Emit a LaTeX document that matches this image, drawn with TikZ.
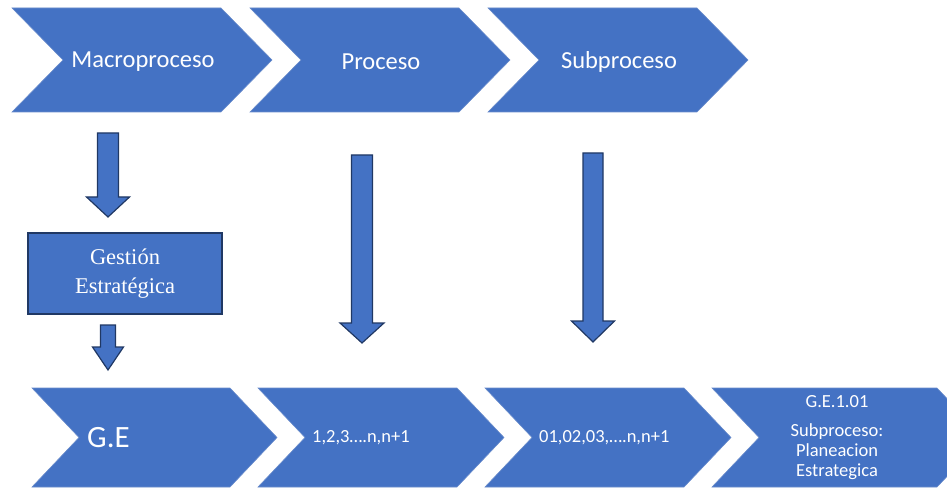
\documentclass[tikz,border=0pt]{standalone}
\usepackage{fontspec}
\setmainfont{Carlito}
\newfontfamily\serifgs{Liberation Serif}
\definecolor{fillblue}{HTML}{4472C4}
\definecolor{edgeblue}{HTML}{6A8CCB}
\definecolor{darkblue}{HTML}{203864}
\tikzset{
  chev/.style={fill=fillblue, draw=edgeblue, line width=0.6pt, line join=miter},
  blockarrow/.style={fill=fillblue, draw=darkblue, line width=1.2pt, line join=miter},
  gbox/.style={fill=fillblue, draw=darkblue, line width=1.2pt},
  lbl/.style={text=white, inner sep=0pt},
}
\newcommand\chevron[5]{% L R T B d
  \path[chev] (#1,#3) -- (#2,#3) -- ({#2+#5},{(#3+#4)/2}) -- (#2,#4) -- (#1,#4) -- ({#1+#5},{(#3+#4)/2}) -- cycle;}
\newcommand\barrow[6]{% cx top headtop tip shafthalf headhalf
  \path[blockarrow] ({#1-#5},#2) -- ({#1+#5},#2) -- ({#1+#5},#3) -- ({#1+#6},#3) -- (#1,#4) -- ({#1-#6},#3) -- ({#1-#5},#3) -- cycle;}
\begin{document}
\begin{tikzpicture}[x=1pt,y=-1pt]
\useasboundingbox (0,0) rectangle (947,489);
\clip (0,0) rectangle (947,489);
% top chevrons
\chevron{12}{221}{8}{112}{51}
\chevron{250}{459}{8}{112}{51}
\chevron{488}{697}{8}{112}{51}
\node[lbl, font=\fontsize{24.5}{28}\selectfont] (tmacro) at (143,62) {Macroproceso};
\node[lbl, font=\fontsize{24.5}{28}\selectfont] (tproc) at (381,62) {Proceso};
\node[lbl, font=\fontsize{24.5}{28}\selectfont] (tsub) at (619,62) {Subproceso};
% bottom chevrons
\chevron{32}{230}{388}{487}{47}
\chevron{258}{457}{388}{487}{47}
\chevron{485}{684}{388}{487}{47}
\chevron{712}{937}{388}{487}{47}
\node[lbl, anchor=west, font=\fontsize{31}{34}\selectfont] (tge) at (87,438) {G.E};
\node[lbl, anchor=west, font=\fontsize{18.5}{22}\selectfont] (tnum) at (312,438) {1,2,3….n,n+1};
\node[lbl, anchor=west, font=\fontsize{18.5}{22}\selectfont] (tnum2) at (539,438) {01,02,03,….n,n+1};
\node[lbl, font=\fontsize{18.5}{22}\selectfont] (tcode) at (837,402) {G.E.1.01};
\node[lbl, align=center, font=\fontsize{18.5}{20}\selectfont] (tplan) at (837,452) {Subproceso:\\Planeacion\\Estrategica};
% Gestion box
\path[gbox] (28,233) rectangle (222,314);
\node[lbl, align=center, font=\serifgs\fontsize{22.5}{29}\selectfont] (tgest) at (125,274) {Gestión\\Estratégica};
% block arrows
\barrow{108}{133}{197}{217}{10.5}{21.5}
\barrow{108}{325}{347}{370}{7.5}{15.5}
\barrow{362}{155}{323}{343}{10.5}{22}
\barrow{593}{153}{321}{342}{10}{21.5}
\end{tikzpicture}
\end{document}
